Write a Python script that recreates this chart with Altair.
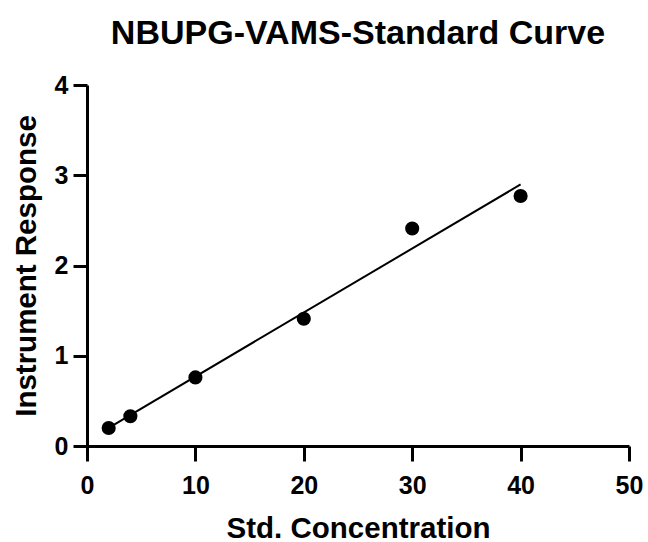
import altair as alt
import pandas as pd

conc = [2, 4, 10, 20, 30, 40]
response = [0.20, 0.33, 0.76, 1.41, 2.41, 2.77]

df = pd.DataFrame({"conc": conc, "resp": response})

FONT = "Liberation Sans"

x = alt.X("conc:Q", title="Std. Concentration",
          scale=alt.Scale(domain=[0, 50], nice=False),
          axis=alt.Axis(values=[0, 10, 20, 30, 40, 50], grid=False,
                        labelFontSize=25, labelPadding=12, tickSize=15,
                        titleFontSize=29.5, titleY=91, titleBaseline="alphabetic"))
y = alt.Y("resp:Q", title="Instrument Response",
          scale=alt.Scale(domain=[0, 4], nice=False),
          axis=alt.Axis(values=[0, 1, 2, 3, 4], grid=False,
                        labelFontSize=25, labelPadding=5, tickSize=14,
                        titleFontSize=29.5, titleX=-52, titleBaseline="alphabetic"))

points = alt.Chart(df).mark_circle(size=200, color="black", opacity=1).encode(x=x, y=y)

line = alt.Chart(df).transform_regression(
    "conc", "resp", extent=[2, 40]
).mark_line(color="black", strokeWidth=2).encode(x=x, y=y)

chart = alt.layer(line, points).properties(
    width=542, height=361,
    title=alt.TitleParams("NBUPG-VAMS-Standard Curve", fontSize=34, font=FONT,
                          fontWeight="bold", anchor="middle", offset=22,
                          color="black"),
    autosize=alt.AutoSizeParams(type="none"),
    padding={"left": 87, "top": 85, "right": 19, "bottom": 96},
).configure_view(stroke=None).configure_axis(
    labelFont=FONT, titleFont=FONT, labelFontWeight="bold", titleFontWeight="bold",
    labelColor="black", titleColor="black", domainColor="black", tickColor="black",
    domainWidth=3, tickWidth=3, labelFlush=False, labelOverlap=False
)

chart.save("out.html", embed_options={"renderer": "svg", "actions": False})
